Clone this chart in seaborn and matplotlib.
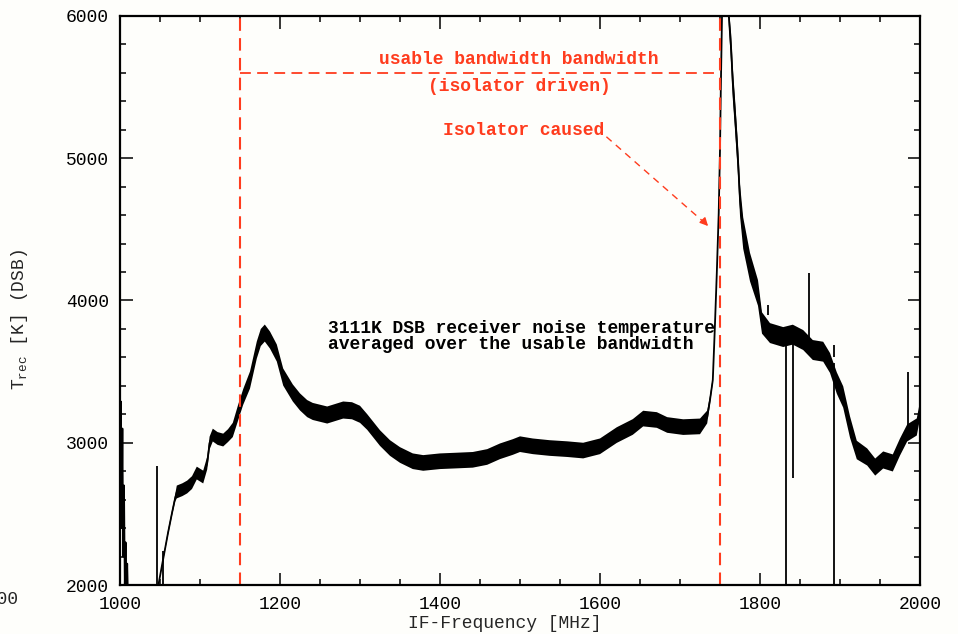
import numpy as np
import pandas as pd
import matplotlib
matplotlib.use("Agg")
import matplotlib.pyplot as plt
import seaborn as sns
from matplotlib.ticker import MultipleLocator

# ---- data -------------------------------------------------------------
freq = [1000, 1001, 1002, 1003, 1004, 1005, 1006, 1007, 1008, 1009, 1010,
        1045, 1048, 1053.75, 1060, 1065, 1069, 1071, 1078, 1084, 1090, 1096,
        1104, 1109, 1112, 1116, 1122, 1129, 1135, 1141, 1147.5, 1154, 1162.5,
        1171, 1176, 1181, 1187.5, 1196, 1204, 1216, 1225, 1234, 1241, 1259,
        1279, 1290, 1300, 1309, 1325, 1337.5, 1350, 1366, 1379, 1400, 1421,
        1441, 1459, 1475, 1491, 1500, 1516, 1537, 1559, 1579, 1600, 1621,
        1641, 1654, 1671, 1684, 1704, 1725, 1734, 1737.5, 1741, 1743.5, 1746,
        1748.4, 1750, 1751, 1752.5, 1755, 1758, 1761, 1764, 1766, 1769,
        1772.5, 1775, 1779, 1787.5, 1797.5, 1802.5, 1812.5, 1829, 1841, 1854,
        1866, 1879, 1887.5, 1896, 1904, 1912.5, 1921, 1934, 1944, 1954, 1966,
        1975, 1984, 1996, 2000]
t_mid = [3000, 3290, 2400, 3100, 2200, 2700, 2000, 2300, 1950, 2150, 1900,
         1900, 2000, 2176, 2366, 2506, 2612, 2654, 2670, 2689, 2720, 2787,
         2759, 2857, 2998, 3054, 3030, 3019, 3050, 3090, 3209, 3322, 3441,
         3652, 3740, 3771, 3722, 3631, 3462, 3350, 3287, 3240, 3220, 3195,
         3230, 3225, 3200, 3146, 3033, 2963, 2914, 2870, 2858, 2870, 2875,
         2880, 2900, 2940, 2970, 2990, 2975, 2963, 2955, 2945, 2975, 3054,
         3111, 3170, 3160, 3125, 3110, 3115, 3181, 3301, 3441, 3800, 4193,
         4615, 5058, 5480, 6000, 6900, 6900, 6000, 5761, 5529, 5290,
         4988, 4707, 4474, 4235, 4053, 3842, 3771, 3743, 3760, 3722,
         3652, 3640, 3561, 3420, 3322, 3111, 2949, 2900, 2829, 2879, 2858,
         2970, 3069, 3111, 3230]
t_spread = [0, 0, 0, 0, 0, 0, 0, 0, 0, 0, 0,
            0, 0, 12, 18, 20, 25, 45, 45, 45, 45, 45,
            45, 45, 45, 45, 45, 45, 45, 50, 55, 55, 60,
            60, 60, 60, 60, 60, 60, 60, 60, 60, 60, 60,
            60, 60, 60, 55, 55, 55, 55, 55, 55, 55, 55,
            55, 55, 55, 55, 55, 55, 55, 55, 55, 55, 55,
            55, 55, 55, 55, 55, 55, 45, 30, 20, 15, 15,
            15, 15, 15, 0, 0, 0, 60, 110, 110, 110,
            110, 110, 110, 100, 90, 75, 70, 70, 70, 70,
            70, 70, 70, 75, 75, 75, 65, 60, 60, 60, 60,
            60, 60, 60, 60]

spike_freq = [1046, 1054, 1810, 1833, 1841, 1861, 1892, 1892, 1985]
spike_lo = [1900, 1900, 3900, 1900, 2750, 3700, 1900, 3600, 3100]
spike_hi = [2840, 2240, 3970, 3700, 3750, 4190, 3560, 3690, 3500]

band_edges = [1150, 1750]
band_level = 5600

x_ticks = [1000, 1200, 1400, 1600, 1800, 2000]
y_ticks = [2000, 3000, 4000, 5000, 6000]

# ---- style -------------------------------------------------------------
RED = "#ff3c1e"
BG = "#fefefb"
sns.set_style("ticks")
plt.rcParams["font.family"] = ["Liberation Mono", "DejaVu Sans"]
plt.rcParams["mathtext.fontset"] = "custom"
plt.rcParams["mathtext.rm"] = "Liberation Mono"
plt.rcParams["mathtext.it"] = "Liberation Mono"
FS = 13

fig = plt.figure(figsize=(9.58, 6.34), dpi=100, facecolor=BG)
ax = fig.add_axes([120 / 958, 1 - 585 / 634, 800 / 958, 569 / 634])
ax.set_facecolor(BG)

df = pd.DataFrame({"freq": freq, "t": t_mid, "s": t_spread})
df["lo"] = df["t"] - df["s"]
df["hi"] = df["t"] + df["s"]

ax.fill_between(df["freq"], df["lo"], df["hi"], color="black", lw=0)
sns.lineplot(data=df, x="freq", y="t", color="black", lw=1.3, ax=ax,
             estimator=None, sort=False)
ax.vlines(spike_freq, spike_lo, spike_hi, color="black", lw=1.3)

# red annotations
for xe in band_edges:
    ax.axvline(xe, color=RED, lw=1.5, ls=(0, (6, 3.5)))
ax.plot(band_edges, [band_level, band_level], color=RED, lw=1.3,
        ls=(0, (6, 3.5)))
ax.text(1499, 5691, "usable bandwidth bandwidth", color=RED, fontsize=FS,
        ha="center", va="center", fontweight="bold")
ax.text(1499, 5501, "(isolator driven)", color=RED, fontsize=FS,
        ha="center", va="center", fontweight="bold")
ax.text(1504, 5192, "Isolator caused", color=RED, fontsize=FS,
        ha="center", va="center", fontweight="bold")
ax.plot([1608, 1731], [5151, 4545], color=RED, lw=1.0, ls=(0, (5, 4)))
ax.annotate("", xy=(1737.5, 4509), xytext=(1729, 4560),
            arrowprops=dict(arrowstyle="-|>", color=RED, lw=1.0,
                            mutation_scale=12))

ax.text(1260, 3803, "3111K DSB receiver noise temperature", color="black",
        fontsize=FS, ha="left", va="center", fontweight="bold")
ax.text(1260, 3688, "averaged over the usable bandwidth", color="black",
        fontsize=FS, ha="left", va="center", fontweight="bold")

# axes
ax.set_xlim(1000, 2000)
ax.set_ylim(2000, 6000)
ax.set_xticks(x_ticks)
ax.set_yticks(y_ticks)
ax.xaxis.set_minor_locator(MultipleLocator(50))
ax.yaxis.set_minor_locator(MultipleLocator(200))
ax.tick_params(which="both", direction="in", top=True, right=True,
               labelsize=FS, colors="black")
ax.tick_params(which="major", length=9, width=1.1, pad=8)
ax.tick_params(which="minor", length=4.5, width=1.1)
for sp in ax.spines.values():
    sp.set_linewidth(1.6)
    sp.set_color("black")

ax.set_xlabel("IF-Frequency [MHz]", fontsize=FS)
ax.set_ylabel(r"$\mathrm{T_{rec}}$ [K] (DSB)", fontsize=FS)
ax.xaxis.set_label_coords(0.481, -0.052)
ax.yaxis.set_label_coords(-0.112, 0.466)

# clipped tick label remnant at the far left
fig.text(19 / 958, 1 - 600 / 634, "2000", fontsize=FS, ha="right",
         va="center")

fig.savefig("out.png", dpi=100, facecolor=BG)
